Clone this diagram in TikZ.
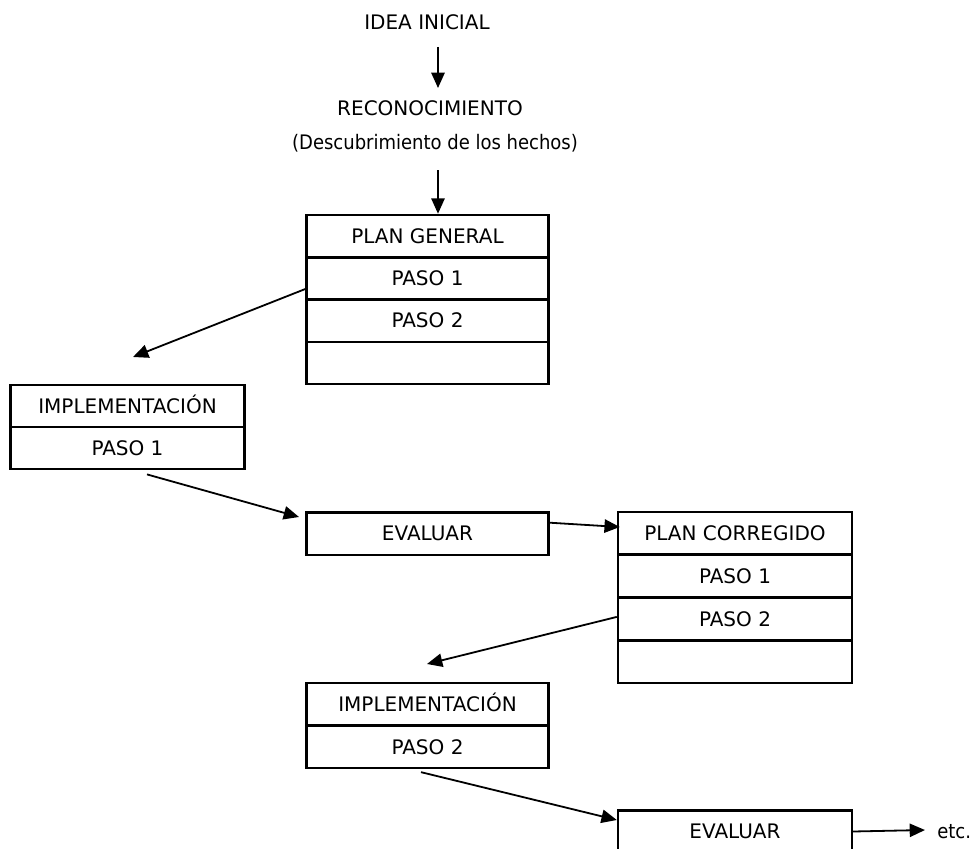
\documentclass[tikz,border=0pt]{standalone}
\usepackage{fontspec}
\setmainfont{DejaVu Sans}
\newfontfamily\condfont{DejaVu Sans Condensed}
\usetikzlibrary{arrows.meta,calc}
\begin{document}
\begin{tikzpicture}[x=0.75pt,y=-0.75pt,
  cell/.style={draw,line width=1.8pt,inner sep=0pt,font=\fontsize{15}{18}\selectfont,text height=11pt,text depth=0pt,minimum height=31.8pt},
  wcell/.style={cell,minimum width=181.5pt},
  ncell/.style={cell,minimum width=175.5pt},
  lbl/.style={inner sep=0pt,anchor=base,font=\fontsize{15}{18}\selectfont},
  clbl/.style={inner sep=0pt,anchor=base,font=\condfont\fontsize{15}{18}\selectfont},
  arr/.style={line width=1.35pt,-{Triangle[length=11.5pt,width=10pt]}}]
\useasboundingbox (0,0) rectangle (975,849);
\clip (0,0) rectangle (975,849);

% top texts
\node[lbl] (idea) at (427,30) {IDEA INICIAL};
\node[lbl] (reco) at (430,115) {RECONOCIMIENTO};
\node[clbl] (desc) at (435,149) {(Descubrimiento de los hechos)};

% PLAN GENERAL
\node[wcell] (pg1) at (427.5,236.1) {PLAN GENERAL};
\node[wcell] (pg2) at (427.5,278.4) {PASO 1};
\node[wcell] (pg3) at (427.5,320.6) {PASO 2};
\node[wcell] (pg4) at (427.5,362.9) {};

% IMPLEMENTACION 1
\node[ncell] (i1a) at (127.5,406) {IMPLEMENTACIÓN};
\node[ncell] (i1b) at (127.5,448) {PASO 1};

% EVALUAR 1
\node[wcell] (ev1) at (427.5,533.5) {EVALUAR};

% PLAN CORREGIDO
\node[ncell] (pc1) at (735,533.4) {PLAN CORREGIDO};
\node[ncell] (pc2) at (735,576.1) {PASO 1};
\node[ncell] (pc3) at (735,618.9) {PASO 2};
\node[ncell] (pc4) at (735,661.6) {};

% IMPLEMENTACION 2
\node[wcell] (i2a) at (427.5,704.25) {IMPLEMENTACIÓN};
\node[wcell] (i2b) at (427.5,746.75) {PASO 2};

% EVALUAR 2
\node[ncell] (ev2) at (735,831.5) {EVALUAR};
\node[clbl,anchor=base west] (etc) at (937,838) {etc.};

% arrows
\coordinate (a1s) at (438,47);
\coordinate (a1e) at (438,88);
\draw[arr] (a1s) -- (a1e);
\coordinate (a2s) at (438,170);
\draw[arr] (a2s) -- ($(pg1.north)+(10.5,0)$);

\coordinate (tA) at (133,357);
\draw[arr] ($(pg2.west)+(0,10.6)$) -- (tA);
\coordinate (tB) at (299,517);
\draw[arr] ($(i1b.south)+(19.5,4)$) -- (tB);
\draw[arr] ($(ev1.east)+(0,-10.8)$) -- ($(pc1.west)+(3,-6.4)$);
\coordinate (tD) at (427,664);
\draw[arr] ($(pc3.west)+(0,-2)$) -- (tD);
\draw[arr] ($(i2b.south)+(-6.5,3)$) -- ($(ev2.west)+(0,-11.5)$);
\coordinate (tF) at (925,830);
\draw[arr] (ev2.east) -- (tF);
\end{tikzpicture}
\end{document}
